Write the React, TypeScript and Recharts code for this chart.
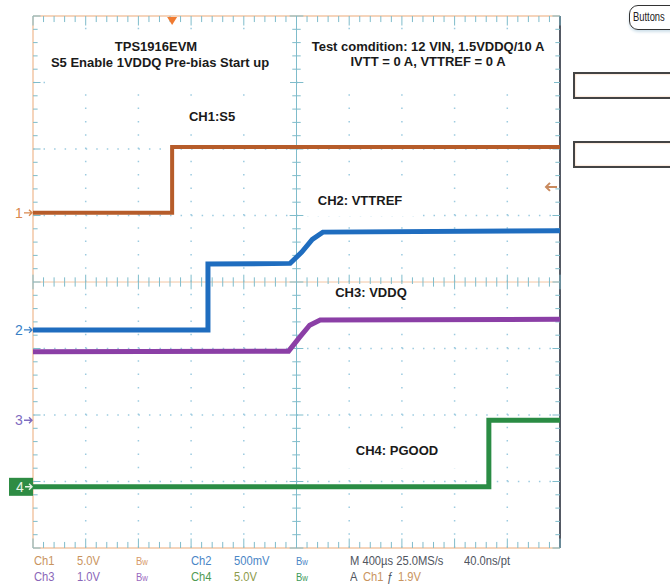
import React from "react";
import { LineChart, Line, XAxis, YAxis, ReferenceLine, ReferenceDot } from "recharts";

// Screen is 10 x 8 divisions. Time in divisions (400 µs/div), levels in divisions from centre.
const ch1Time = [0, 2.64, 2.64, 10];
const ch1Level = [1.04, 1.04, 2.03, 2.03];

const ch2Time = [0, 3.32, 3.32, 4.88, 5.1, 5.3, 5.5, 10];
const ch2Level = [-0.72, -0.72, 0.27, 0.28, 0.45, 0.64, 0.75, 0.77];

const ch3Time = [0, 4.85, 5.05, 5.25, 5.45, 10];
const ch3Level = [-1.05, -1.04, -0.84, -0.65, -0.57, -0.56];

const ch4Time = [0, 8.65, 8.65, 10];
const ch4Level = [-3.08, -3.08, -2.08, -2.08];

// ground markers on the left edge
const markerNames = ["1", "2", "3", "4"];
const markerLevels = [1.04, -0.72, -2.08, -3.08];
const markerColors = ["#d9884e", "#3a7fc6", "#7f6cc0", "#2e8c44"];

const triggerTime = 2.64;
const triggerLevel = 1.43;

const gridX = [1, 2, 3, 4, 6, 7, 8, 9];
const gridY = [-3, -2, -1, 1, 2, 3];
const minorX = Array.from({ length: 51 }, (_, i) => +(i * 0.2).toFixed(1));
const minorY = Array.from({ length: 41 }, (_, i) => +(-4 + i * 0.2).toFixed(1));

const C1 = "#b65c2a";
const C2 = "#1f6dbf";
const C3 = "#8b3fa6";
const C4 = "#2a8c44";
const GRID = "#9ccbe0";
const TICK = "#7fbccb";
const EDGE = "#f2c6a4";

const pts = (t: number[], v: number[]) => t.map((x, i) => ({ t: x, v: v[i] }));

const isMajor = (v: number) => Math.abs(v - Math.round(v)) < 1e-6;

function tickSegments() {
  const out: React.ReactNode[] = [];
  // ticks on horizontal lines: top border, centre, bottom border
  minorX.forEach((x, i) => {
    const h = isMajor(x) ? 0.11 : 0.07;
    out.push(
      <ReferenceLine key={`tc${i}`} segment={[{ x, y: -h }, { x, y: h }]} stroke={TICK} strokeWidth={1} />,
      <ReferenceLine key={`tt${i}`} segment={[{ x, y: 4 }, { x, y: 4 - h * 1.3 }]} stroke={TICK} strokeWidth={1} />,
      <ReferenceLine key={`tb${i}`} segment={[{ x, y: -4 }, { x, y: -4 + h * 1.3 }]} stroke={TICK} strokeWidth={1} />
    );
  });
  // ticks on vertical lines: left border, centre, right border
  minorY.forEach((y, i) => {
    const w = isMajor(y) ? 0.13 : 0.08;
    out.push(
      <ReferenceLine key={`vc${i}`} segment={[{ x: 5 - w, y }, { x: 5 + w, y }]} stroke={TICK} strokeWidth={1} />,
      <ReferenceLine key={`vl${i}`} segment={[{ x: 0, y }, { x: w * 1.1, y }]} stroke={TICK} strokeWidth={1} />,
      <ReferenceLine key={`vr${i}`} segment={[{ x: 10, y }, { x: 10 - w * 1.1, y }]} stroke={TICK} strokeWidth={1} />
    );
  });
  return out;
}

function Marker(props: any) {
  const { cx, cy, idx } = props;
  const color = markerColors[idx];
  if (idx === 3) {
    return (
      <g>
        <rect x={cx - 24} y={cy - 9} width={24} height={18} fill={color} />
        <text x={cx - 17} y={cy + 5} fontSize={14} fill="#e8f4e8" fontFamily="Liberation Sans, Arial, sans-serif">{markerNames[idx]}</text>
        <path d={`M${cx - 8},${cy} L${cx - 1},${cy} M${cx - 4},${cy - 3} L${cx - 1},${cy} L${cx - 4},${cy + 3}`} stroke="#e8f4e8" strokeWidth={1.4} fill="none" />
      </g>
    );
  }
  return (
    <g>
      <text x={cx - 18} y={cy + 5} fontSize={14} fill={color} fontFamily="Liberation Sans, Arial, sans-serif">{markerNames[idx]}</text>
      <path d={`M${cx - 9},${cy} L${cx - 1},${cy} M${cx - 4},${cy - 3} L${cx - 1},${cy} L${cx - 4},${cy + 3}`} stroke={color} strokeWidth={1.4} fill="none" />
    </g>
  );
}

const boxStyle = (left: number, top: number, width: number, height: number): React.CSSProperties => ({
  position: "absolute", left, top, width, height, background: "#fff",
});

function Txt({ x, y, children, size = 13 }: { x: number; y: number; children: React.ReactNode; size?: number }) {
  return (
    <div style={{
      position: "absolute", left: x - 160, top: y - 8, width: 320, height: 16, lineHeight: "16px",
      textAlign: "center", fontFamily: "Liberation Sans, Arial, sans-serif", fontWeight: "bold",
      fontSize: size, color: "#1a1a1a", whiteSpace: "nowrap",
    }}>{children}</div>
  );
}

const ROF = "Liberation Sans, Arial, sans-serif";

// readout text is a narrow face; squeeze a regular sans to match
function Ro({ x, y, color, children, size = 13 }: { x: number; y: number; color: string; children: React.ReactNode; size?: number }) {
  return (
    <div style={{
      position: "absolute", left: x, top: y - 8, height: 16, lineHeight: "16px", fontFamily: ROF, fontSize: size,
      color, whiteSpace: "nowrap", transform: "scaleX(0.86)", transformOrigin: "left center",
    }}>
      {children}
    </div>
  );
}

export default function App() {
  return (
    <div style={{ position: "absolute", left: 0, top: 0, width: 670, height: 585, background: "#fff", overflow: "hidden" }}>
      <LineChart width={670} height={585} margin={{ top: 16, right: 110, bottom: 37, left: 33 }}>
        <XAxis dataKey="t" type="number" domain={[0, 10]} hide allowDuplicatedCategory={false} />
        <YAxis type="number" domain={[-4, 4]} hide />
        {gridX.map((x) => (
          <ReferenceLine key={`gx${x}`} x={x} stroke={GRID} strokeWidth={1.5} strokeDasharray="1.5 11.8" />
        ))}
        {gridY.map((y) => (
          <ReferenceLine key={`gy${y}`} y={y} stroke={GRID} strokeWidth={1.5} strokeDasharray="1.5 9.04" />
        ))}
        <ReferenceLine y={0} stroke={EDGE} strokeWidth={1} />
        <ReferenceLine x={5} stroke={TICK} strokeWidth={1} />
        <ReferenceLine y={4} stroke={EDGE} strokeWidth={1.5} />
        <ReferenceLine y={-4} stroke={EDGE} strokeWidth={1.5} />
        <ReferenceLine x={0} stroke={EDGE} strokeWidth={1.5} />
        <ReferenceLine x={10} stroke="#1b2230" strokeWidth={1.5} />
        {tickSegments()}
        <Line data={pts(ch1Time, ch1Level)} dataKey="v" type="linear" dot={false} stroke={C1} strokeWidth={4} isAnimationActive={false} />
        <Line data={pts(ch2Time, ch2Level)} dataKey="v" type="linear" dot={false} stroke={C2} strokeWidth={5} isAnimationActive={false} />
        <Line data={pts(ch3Time, ch3Level)} dataKey="v" type="linear" dot={false} stroke={C3} strokeWidth={5} isAnimationActive={false} />
        <Line data={pts(ch4Time, ch4Level)} dataKey="v" type="linear" dot={false} stroke={C4} strokeWidth={5} isAnimationActive={false} />
        {markerLevels.map((lv, i) => (
          <ReferenceDot key={`m${i}`} x={0} y={lv} r={0} shape={(p: any) => <Marker {...p} idx={i} />} />
        ))}
        <ReferenceDot x={triggerTime} y={4} r={0} shape={(p: any) => (
          <path d={`M${p.cx - 5},${p.cy + 1} L${p.cx + 5},${p.cy + 1} L${p.cx},${p.cy + 9} Z`} fill="#f07a30" />
        )} />
        <ReferenceDot x={10} y={triggerLevel} r={0} shape={(p: any) => (
          <path d={`M${p.cx - 3},${p.cy} L${p.cx - 14},${p.cy} M${p.cx - 10},${p.cy - 4} L${p.cx - 14},${p.cy} L${p.cx - 10},${p.cy + 4}`} stroke="#c98a5e" strokeWidth={2} fill="none" />
        )} />
      </LineChart>

      {/* annotation boxes */}
      <div style={boxStyle(45, 31, 245, 60)} />
      <div style={boxStyle(304, 31, 250, 60)} />
      <div style={boxStyle(180, 106, 66, 22)} />
      <div style={boxStyle(304, 186, 110, 30)} />
      <div style={boxStyle(325, 284, 95, 20)} />
      <div style={boxStyle(300, 436, 170, 32)} />

      <Txt x={156} y={47}>TPS1916EVM</Txt>
      <Txt x={160} y={63}>S5 Enable 1VDDQ Pre-bias Start up</Txt>
      <Txt x={428} y={47}>Test comdition: 12 VIN, 1.5VDDQ/10 A</Txt>
      <Txt x={428} y={62}>IVTT = 0 A, VTTREF = 0 A</Txt>
      <Txt x={212} y={117}>CH1:S5</Txt>
      <Txt x={360} y={201}>CH2: VTTREF</Txt>
      <Txt x={371} y={293}>CH3: VDDQ</Txt>
      <Txt x={397} y={451}>CH4: PGOOD</Txt>

      {/* readout */}
      <Ro x={34} y={561} color="#c9945e">Ch1</Ro>
      <Ro x={77} y={561} color="#c9945e">5.0V</Ro>
      <Ro x={136} y={561} color="#d79a6a" size={11}>B<span style={{ fontSize: 9 }}>w</span></Ro>
      <Ro x={191} y={561} color="#4a86c6">Ch2</Ro>
      <Ro x={234} y={561} color="#4a86c6">500mV</Ro>
      <Ro x={296} y={561} color="#4a86c6" size={11}>B<span style={{ fontSize: 9 }}>w</span></Ro>
      <Ro x={350} y={561} color="#505560">M 400µs 25.0MS/s</Ro>
      <Ro x={464} y={561} color="#505560">40.0ns/pt</Ro>

      <Ro x={34} y={577} color="#8a66b8">Ch3</Ro>
      <Ro x={77} y={577} color="#8a66b8">1.0V</Ro>
      <Ro x={136} y={577} color="#9a6ac0" size={11}>B<span style={{ fontSize: 9 }}>w</span></Ro>
      <Ro x={191} y={577} color="#4f9a52">Ch4</Ro>
      <Ro x={234} y={577} color="#8c9a4a">5.0V</Ro>
      <Ro x={296} y={577} color="#3c9a5a" size={11}>B<span style={{ fontSize: 9 }}>w</span></Ro>
      <Ro x={350} y={577} color="#505560">A</Ro>
      <Ro x={363} y={577} color="#c9945e">Ch1</Ro>
      <Ro x={387} y={577} color="#505560">ƒ</Ro>
      <Ro x={398} y={577} color="#c9945e">1.9V</Ro>

      {/* side panel */}
      <div style={{
        position: "absolute", left: 629, top: 5, width: 50, height: 23, border: "1.5px solid #333",
        borderRadius: 9, boxShadow: "0 2px 3px #cfe0ea",
      }} />
      <div style={{
        position: "absolute", left: 633, top: 6, height: 23, lineHeight: "23px", fontFamily: ROF, fontSize: 12,
        color: "#222", whiteSpace: "nowrap", transform: "scaleX(0.78)", transformOrigin: "left center",
      }}>Buttons</div>
      <div style={{ position: "absolute", left: 573, top: 72, width: 110, height: 23, border: "2px solid #444", boxShadow: "inset 0 0 2px #f5b990" }} />
      <div style={{ position: "absolute", left: 573, top: 141, width: 110, height: 23, border: "2px solid #444", boxShadow: "inset 0 0 2px #f5b990" }} />
    </div>
  );
}
